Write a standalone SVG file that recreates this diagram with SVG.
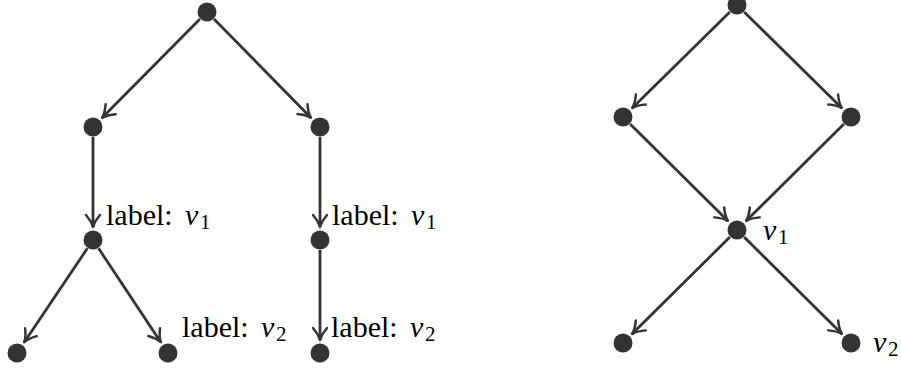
<svg xmlns="http://www.w3.org/2000/svg" width="901" height="370" viewBox="0 0 901 370">
<style>
.node{fill:#333333}
.edge{stroke:#333333;stroke-width:2.8;fill:none}
.lbl{font-family:"Liberation Serif","Times New Roman",serif;font-size:30px;fill:#000}
.it{font-style:italic}
.sub{font-size:21px}
</style>
<defs>
<marker id="arr" viewBox="-15 -10 17 20" markerWidth="17" markerHeight="20" refX="0" refY="0" orient="auto" markerUnits="userSpaceOnUse">
<path d="M-12,-7 C-8,-3.5 -3.5,-1 0,0 C-3.5,1 -8,3.5 -12,7" fill="none" stroke="#333333" stroke-width="2.5" stroke-linecap="round" stroke-linejoin="round"/>
</marker>
</defs>
<g id="connectors">
<line class="edge" x1="199.96" y1="19.1" x2="102.15" y2="117.77" marker-end="url(#arr)"/>
<line class="edge" x1="214.0" y1="19.1" x2="310.89" y2="117.73" marker-end="url(#arr)"/>
<line class="edge" x1="93" y1="137" x2="93" y2="227" marker-end="url(#arr)"/>
<line class="edge" x1="320" y1="137" x2="320" y2="227" marker-end="url(#arr)"/>
<line class="edge" x1="87.42" y1="248.3" x2="24.25" y2="342.21" marker-end="url(#arr)"/>
<line class="edge" x1="98.53" y1="248.33" x2="160.81" y2="342.17" marker-end="url(#arr)"/>
<line class="edge" x1="320" y1="250" x2="320" y2="340" marker-end="url(#arr)"/>
<line class="edge" x1="729.87" y1="12.01" x2="632.27" y2="107.89" marker-end="url(#arr)"/>
<line class="edge" x1="744.13" y1="12.01" x2="841.73" y2="107.89" marker-end="url(#arr)"/>
<line class="edge" x1="630.1" y1="124.04" x2="727.77" y2="220.85" marker-end="url(#arr)"/>
<line class="edge" x1="843.9" y1="124.04" x2="746.23" y2="220.85" marker-end="url(#arr)"/>
<line class="edge" x1="729.9" y1="237.04" x2="632.23" y2="333.85" marker-end="url(#arr)"/>
<line class="edge" x1="744.1" y1="237.04" x2="841.77" y2="333.85" marker-end="url(#arr)"/>
</g>
<g id="nA"><circle class="node" cx="207" cy="12" r="9.5"/></g>
<g id="nB"><circle class="node" cx="93" cy="127" r="9.5"/></g>
<g id="nC"><circle class="node" cx="320" cy="127" r="9.5"/></g>
<g id="nD"><circle class="node" cx="93" cy="240" r="9.5"/>
<text class="lbl" x="106" y="225">label:<tspan class="it" x="185">v</tspan><tspan class="sub" x="200" y="229">1</tspan></text></g>
<g id="nE"><circle class="node" cx="320" cy="240" r="9.5"/>
<text class="lbl" x="332" y="225">label:<tspan class="it" x="411">v</tspan><tspan class="sub" x="426" y="229">1</tspan></text></g>
<g id="nF"><circle class="node" cx="17" cy="353" r="9.5"/></g>
<g id="nG"><circle class="node" cx="168" cy="353" r="9.5"/>
<text class="lbl" x="182" y="337">label:<tspan class="it" x="261">v</tspan><tspan class="sub" x="276" y="341">2</tspan></text></g>
<g id="nH"><circle class="node" cx="320" cy="353" r="9.5"/>
<text class="lbl" x="331" y="337">label:<tspan class="it" x="410">v</tspan><tspan class="sub" x="425" y="341">2</tspan></text></g>
<g id="nP"><circle class="node" cx="737" cy="5" r="9.5"/></g>
<g id="nQ"><circle class="node" cx="623" cy="117" r="9.5"/></g>
<g id="nR"><circle class="node" cx="851" cy="117" r="9.5"/></g>
<g id="nS"><circle class="node" cx="737" cy="230" r="9.5"/>
<text class="lbl" x="763" y="240"><tspan class="it">v</tspan><tspan class="sub" x="778" y="244">1</tspan></text></g>
<g id="nU"><circle class="node" cx="851" cy="343" r="9.5"/>
<text class="lbl" x="873" y="352"><tspan class="it">v</tspan><tspan class="sub" x="888" y="356">2</tspan></text></g>
<g id="nT"><circle class="node" cx="623" cy="343" r="9.5"/></g>
</svg>
